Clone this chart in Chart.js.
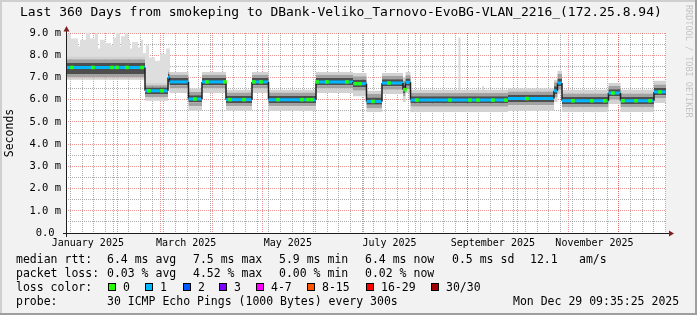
<!DOCTYPE html>
<html>
<head>
<meta charset="utf-8">
<script src="https://cdn.jsdelivr.net/npm/chart.js@4.4.1/dist/chart.umd.min.js"></script>
<style>
  html, body { margin: 0; padding: 0; background: #f2f2f2; }
  #wrap { position: relative; width: 697px; height: 315px; overflow: hidden; }
  #wrap canvas { position: absolute; left: 0; top: 0; }
  .lg { position: absolute; font: 11.5px 'DejaVu Sans Mono', monospace; color: #000; line-height: 14px; white-space: pre; }
  .box { position: absolute; width: 8px; height: 8px; box-sizing: border-box; border: 1px solid #000; }
</style>
</head>
<body>
<div id="wrap">
  <canvas id="smoke" width="697" height="315"></canvas>
  <div id="legend"></div>
</div>
<script>
// x values are days since 2025-01-01 00:00
const startDay = 2.4;   // Fri Jan 3 09:35
const endDay = 362.4;   // Mon Dec 29 09:35

const monthStarts = [31, 59, 90, 120, 151, 181, 212, 243, 273, 304, 334];
const monthLabels = ['January 2025', 'March 2025', 'May 2025', 'July 2025', 'September 2025', 'November 2025'];
const monthLabelDays = [15.5, 74.5, 135.5, 196.5, 258.5, 319.5];
const yTicks = [0, 1, 2, 3, 4, 5, 6, 7, 8, 9];

// rtt in ms; each value holds from segStart[i] until the next start
const segStart  = [2.4, 49.8, 63.6, 64.5, 75.9, 84.0, 98.4, 114.0, 123.9, 152.4, 174.6, 182.7, 192.0, 204.6, 206.1, 209.1, 267.6, 295.2, 297.3, 300.0, 327.9, 335.1, 355.2];
const median    = [7.45, 6.40, 7.00, 6.80, 6.03, 6.80, 6.00, 6.80, 6.00, 6.80, 6.72, 5.92, 6.75, 6.45, 6.78, 5.98, 6.05, 6.40, 6.75, 5.95, 6.30, 5.95, 6.35];
// smoke: spread of the 30 pings around the median
const smokeLo    = [6.90, 5.95, 6.50, 6.30, 5.50, 6.30, 5.50, 6.30, 5.50, 6.30, 6.15, 5.45, 6.25, 5.90, 6.30, 5.45, 5.50, 5.90, 6.25, 5.45, 5.80, 5.45, 5.85];
const smokeLoMid = [7.00, 6.10, 6.65, 6.50, 5.70, 6.50, 5.70, 6.50, 5.70, 6.50, 6.40, 5.62, 6.45, 6.15, 6.48, 5.68, 5.75, 6.10, 6.45, 5.65, 6.00, 5.65, 6.05];
const smokeLoIn  = [7.15, 6.25, 6.85, 6.65, 5.88, 6.65, 5.85, 6.65, 5.85, 6.65, 6.57, 5.77, 6.60, 6.30, 6.63, 5.83, 5.90, 6.25, 6.60, 5.80, 6.15, 5.80, 6.20];
const smokeHiIn  = [7.65, 6.55, 7.15, 6.97, 6.20, 6.97, 6.17, 6.97, 6.17, 6.97, 6.90, 6.10, 6.92, 6.65, 6.95, 6.15, 6.22, 6.60, 6.95, 6.12, 6.47, 6.12, 6.52];
const smokeHiMid = [7.82, 6.65, 7.25, 7.12, 6.35, 7.12, 6.32, 7.12, 6.32, 7.12, 7.05, 6.25, 7.07, 6.85, 7.10, 6.30, 6.37, 6.78, 7.15, 6.28, 6.62, 6.28, 6.68];
const smokeHi    = [7.95, 6.75, 7.35, 7.25, 6.50, 7.25, 6.45, 7.25, 6.45, 7.25, 7.20, 6.40, 7.20, 7.00, 7.25, 6.45, 6.50, 6.90, 7.30, 6.45, 6.75, 6.45, 6.85];

// slowest pings in Jan-Feb, sticking out above the smoke
const maxStart = [2.4, 5.4, 9.6, 10.8, 14.4, 16.8, 19.8, 21.6, 22.8, 25.8, 29.4, 30.6, 32.4, 34.8, 35.4, 37.8, 39.6, 40.8, 42.0, 45.6, 47.4, 48.6, 50.4, 52.2, 55.8, 58.8, 62.4];
const maxPing  = [8.95, 8.75, 8.40, 8.70, 9.00, 8.75, 9.00, 8.30, 8.70, 8.55, 8.45, 8.80, 9.00, 8.40, 8.85, 9.00, 8.70, 8.30, 8.60, 8.35, 8.70, 8.10, 8.45, 7.90, 7.75, 8.05, 8.30];
const maxEnd = 64.8;

// single slow outliers later in the year
const spikeDay  = [238.5, 252.6];
const spikeBase = [6.40, 6.40];
const spikeTop  = [8.80, 6.60];

// days where the median shows no loss (green)
const zeroLossDays = [6.0, 18.6, 30.0, 33.0, 39.0, 48.0, 52.2, 60.0, 79.8, 87.0, 97.8, 100.8, 109.2, 115.2, 119.4, 129.6, 144.0, 147.6, 150.0, 153.0, 159.0, 171.0, 176.4, 178.8, 186.6, 196.2, 205.8, 213.0, 232.8, 244.8, 249.6, 258.6, 266.4, 279.0, 306.6, 318.0, 325.8, 330.6, 336.6, 344.4, 352.8, 358.8];

const lossLabels = ['0', '1', '2', '3', '4-7', '8-15', '16-29', '30/30'];
const lossColors = ['#26ff00', '#00b8ff', '#0059ff', '#7e00ff', '#ff00ff', '#ff5500', '#ff0000', '#a10000'];

const MGRID = 'rgba(222,79,79,0.6)';
const GRID = 'rgba(143,143,143,0.75)';
const MONO = 'DejaVu Sans Mono';

const weekLines = [];
for (let d = 5; d <= endDay; d += 7) weekLines.push(d);

function steps(starts, vals, end) {
  const pts = [];
  for (let i = 0; i < starts.length; i++) {
    const x1 = i + 1 < starts.length ? starts[i + 1] : end;
    pts.push({ x: starts[i], y: vals[i] }, { x: x1, y: vals[i] });
  }
  return pts;
}

function medianAt(d) {
  let i = 0;
  while (i + 1 < segStart.length && segStart[i + 1] <= d) i++;
  return median[i];
}

const band = { pointRadius: 0, borderWidth: 0, borderColor: 'rgba(0,0,0,0)' };

const frame = {
  id: 'frame',
  beforeDraw(chart) {
    const c = chart.ctx, a = chart.chartArea, w = chart.width, h = chart.height;
    c.save();
    c.fillStyle = '#f2f2f2'; c.fillRect(0, 0, w, h);
    c.fillStyle = '#cfcfcf'; c.fillRect(0, 0, w, 2); c.fillRect(0, 0, 2, h);
    c.fillStyle = '#9e9e9e'; c.fillRect(0, h - 2, w, 2); c.fillRect(w - 2, 0, 2, h);
    c.fillStyle = '#fff'; c.fillRect(a.left, a.top, a.right - a.left, a.bottom - a.top);
    c.restore();
  },
  afterDraw(chart) {
    const c = chart.ctx, a = chart.chartArea;
    c.save();
    c.strokeStyle = '#1f1f1f'; c.lineWidth = 1;
    c.beginPath();
    c.moveTo(a.left - 3, a.bottom + 0.5); c.lineTo(a.right + 4, a.bottom + 0.5);
    c.moveTo(a.left + 0.5, a.bottom + 4); c.lineTo(a.left + 0.5, a.top - 4);
    c.stroke();
    c.fillStyle = '#801f1f';
    c.beginPath();
    c.moveTo(a.right + 3, a.bottom - 2.5); c.lineTo(a.right + 8, a.bottom + 0.5); c.lineTo(a.right + 3, a.bottom + 3.5);
    c.fill();
    c.beginPath();
    c.moveTo(a.left - 2.5, a.top - 1.5); c.lineTo(a.left + 0.5, a.top - 7); c.lineTo(a.left + 3.5, a.top - 1.5);
    c.fill();

    c.fillStyle = '#000';
    c.font = '13px "' + MONO + '"';
    c.textBaseline = 'middle';
    c.fillText('Last 360 Days from smokeping to DBank-Veliko_Tarnovo-EvoBG-VLAN_2216_(172.25.8.94)', 20, 13);

    c.font = '11.5px "' + MONO + '"';
    c.translate(10.5, (a.top + a.bottom) / 2);
    c.rotate(-Math.PI / 2);
    c.textAlign = 'center';
    c.fillText('Seconds', 0, 0);
    c.restore();

    c.save();
    c.fillStyle = '#c4c4c4';
    c.font = '8.5px "' + MONO + '"';
    c.textBaseline = 'middle';
    c.translate(688.5, 5);
    c.rotate(Math.PI / 2);
    c.fillText('RRDTOOL / TOBI OETIKER', 0, 0);
    c.restore();
  }
};

const datasets = [
  {
    label: 'loss 0',
    data: zeroLossDays.map(d => ({ x: d, y: medianAt(d) })),
    showLine: false,
    pointStyle: 'rect',
    pointRadius: 2.5,
    pointBorderWidth: 0,
    pointBackgroundColor: '#26ff00'
  },
  {
    label: 'median rtt',
    data: steps(segStart, median, endDay),
    borderColor: '#00b8ff',
    borderWidth: 3,
    pointRadius: 0,
    segment: {
      borderColor: s => (s.p0.parsed.x === s.p1.parsed.x ? '#1f1f1f' : undefined),
      borderWidth: s => (s.p0.parsed.x === s.p1.parsed.x ? 1.5 : undefined)
    }
  },
  { label: 'lo', data: steps(segStart, smokeLo, endDay), ...band, fill: false },
  { label: 'loMid', data: steps(segStart, smokeLoMid, endDay), ...band, fill: '-1', backgroundColor: '#d2d2d2' },
  { label: 'loIn', data: steps(segStart, smokeLoIn, endDay), ...band, fill: '-1', backgroundColor: '#a2a2a2' },
  { label: 'hiIn', data: steps(segStart, smokeHiIn, endDay), ...band, fill: '-1', backgroundColor: '#4e4e4e' },
  { label: 'hiMid', data: steps(segStart, smokeHiMid, endDay), ...band, fill: '-1', backgroundColor: '#a2a2a2' },
  { label: 'hi', data: steps(segStart, smokeHi, endDay), ...band, fill: '-1', backgroundColor: '#d2d2d2' },
  { label: 'max', data: steps(maxStart, maxPing, maxEnd), ...band, fill: 7, backgroundColor: '#dedede' }
];
spikeDay.forEach((d, i) => {
  datasets.push({
    label: 'spike ' + (i + 1),
    data: [{ x: d, y: spikeBase[i] }, { x: d, y: spikeTop[i] }],
    pointRadius: 0,
    borderWidth: 2,
    borderColor: '#d8d8d8',
    fill: false
  });
});

new Chart(document.getElementById('smoke').getContext('2d'), {
  type: 'line',
  data: { datasets },
  options: {
    responsive: false,
    animation: false,
    devicePixelRatio: 1,
    events: [],
    layout: { padding: { left: 0, top: 33, right: 31, bottom: 52 } },
    plugins: {
      legend: { display: false },
      tooltip: { enabled: false }
    },
    scales: {
      x: {
        type: 'linear',
        min: startDay,
        max: endDay,
        afterBuildTicks(scale) {
          scale.ticks = [...weekLines, ...monthStarts, ...monthLabelDays]
            .filter(v => v > startDay && v < endDay)
            .sort((p, q) => p - q)
            .map(v => ({ value: v }));
        },
        afterFit(scale) { scale.height = 30; },
        ticks: {
          autoSkip: false,
          maxRotation: 0,
          padding: 4,
          color: '#000',
          font: { family: MONO, size: 10 },
          callback: v => {
            const i = monthLabelDays.indexOf(v);
            return i >= 0 ? monthLabels[i] : '';
          }
        },
        grid: {
          drawTicks: false,
          lineWidth: 1,
          color: c => (monthStarts.includes(c.tick.value) ? MGRID : (weekLines.includes(c.tick.value) ? GRID : 'rgba(0,0,0,0)'))
        },
        border: { display: false, dash: [1, 1] }
      },
      y: {
        min: 0,
        max: 9,
        afterFit(scale) { scale.width = 66; },
        ticks: {
          stepSize: 0.5,
          autoSkip: false,
          padding: 5,
          color: '#000',
          font: { family: MONO, size: 10.5 },
          callback: v => (yTicks.includes(v) ? (v === 0 ? '0.0 ' : v.toFixed(1) + ' m') : '')
        },
        grid: {
          drawTicks: false,
          lineWidth: 1,
          color: c => (yTicks.includes(c.tick.value) ? MGRID : GRID)
        },
        border: { display: false, dash: [1, 1] }
      }
    }
  },
  plugins: [frame]
});

// legend rows under the graph
const legendRows = [
  [259, [[16, 'median rtt:'], [107, '6.4 ms avg'], [193, '7.5 ms max'], [279, '5.9 ms min'], [365, '6.4 ms now'], [452, '0.5 ms sd'], [530, '12.1'], [579, 'am/s']]],
  [273, [[16, 'packet loss:'], [107, '0.03 % avg'], [193, '4.52 % max'], [279, '0.00 % min'], [365, '0.02 % now']]],
  [287, [[16, 'loss color:']]],
  [301, [[16, 'probe:'], [107, '30 ICMP Echo Pings (1000 Bytes) every 300s'], [513, 'Mon Dec 29 09:35:25 2025']]]
];
const lossBoxX = [108, 145, 183, 219, 256, 307, 366, 431];

const legend = document.getElementById('legend');
legendRows.forEach(([y, items]) => {
  items.forEach(([x, text]) => {
    const s = document.createElement('div');
    s.className = 'lg';
    s.style.left = x + 'px';
    s.style.top = (y - 7) + 'px';
    s.textContent = text;
    legend.appendChild(s);
  });
});
lossLabels.forEach((lab, i) => {
  const b = document.createElement('div');
  b.className = 'box';
  b.style.left = lossBoxX[i] + 'px';
  b.style.top = '283px';
  b.style.background = lossColors[i];
  legend.appendChild(b);
  const s = document.createElement('div');
  s.className = 'lg';
  s.style.left = (lossBoxX[i] + 15) + 'px';
  s.style.top = '280px';
  s.textContent = lab;
  legend.appendChild(s);
});
</script>
</body>
</html>
